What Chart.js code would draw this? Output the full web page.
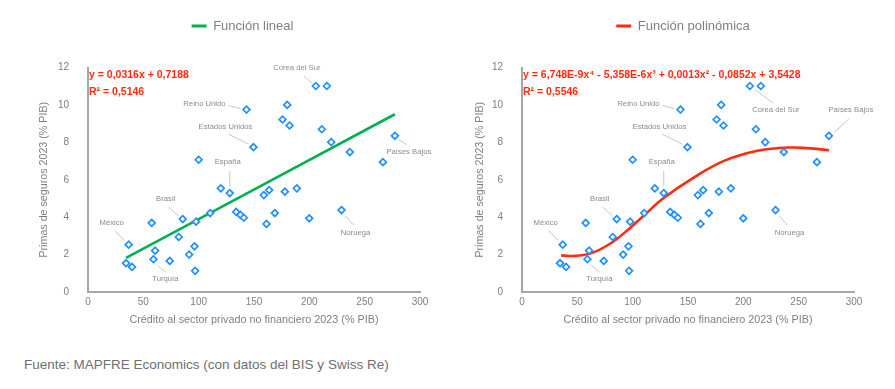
<!DOCTYPE html>
<html lang="es">
<head>
<meta charset="utf-8">
<script src="https://cdn.jsdelivr.net/npm/chart.js@4.4.1/dist/chart.umd.min.js"></script>
<style>
    html, body { margin: 0; padding: 0; background: #fff; overflow: hidden; }
    body { width: 895px; height: 389px; position: relative; font-family: 'Liberation Sans', Arial, sans-serif; }
    canvas { position: absolute; }
    #izq { left: 0; top: -15px; }
    #der { left: 471px; top: -15px; }
    .fuente { position: absolute; left: 24px; top: 357px; font-size: 13.5px; color: #6f6f6f; white-space: nowrap; }
</style>
</head>
<body>
<canvas id="izq" width="485" height="355"></canvas>
<canvas id="der" width="424" height="355"></canvas>
<div class="fuente">Fuente: MAPFRE Economics (con datos del BIS y Swiss Re)</div>
<script>
// Datos
const paises = ["México", "", "", "", "", "Turquía", "", "", "Brasil", "", "", "", "", "", "", "", "España", "", "", "",
    "Reino Unido", "Estados Unidos", "", "", "", "", "", "", "", "", "", "", "Corea del Sur", "", "", "", "Noruega", "", "", "Países Bajos"];
const credito = [36.8, 34.4, 39.8, 57.6, 60.7, 59.1, 73.9, 82.0, 85.6, 91.4, 96.2, 96.8, 97.7, 100.0, 110.4, 120.0, 128.1, 133.9, 137.8, 140.8,
    143.2, 149.5, 158.9, 161.3, 163.7, 168.8, 175.8, 177.9, 180.0, 182.1, 188.7, 199.9, 205.9, 211.3, 215.8, 219.8, 229.1, 236.6, 266.5, 277.3];
const primas = [2.53, 1.54, 1.34, 3.69, 2.21, 1.75, 1.66, 2.94, 3.90, 2.00, 2.44, 1.13, 3.76, 7.07, 4.22, 5.54, 5.29, 4.28, 4.12, 3.97,
    9.75, 7.74, 5.18, 3.64, 5.45, 4.22, 9.22, 5.36, 10.00, 8.90, 5.54, 3.94, 11.01, 8.70, 11.01, 8.01, 4.38, 7.48, 6.94, 8.35];

// Líneas de tendencia
const linealX = [34.4, 277.3];
const linealY = [1.82, 9.50];
const polinomicaX = [35.4, 48.4, 63.5, 81.6, 96.6, 111.7, 126.8, 156.9, 182.5, 212.7, 239.8, 257.9, 277.4];
const polinomicaY = [1.96, 1.93, 2.09, 2.66, 3.37, 4.17, 4.97, 6.18, 7.01, 7.55, 7.72, 7.69, 7.58];

const ticksX = [0, 50, 100, 150, 200, 250, 300];
const ticksY = [0, 2, 4, 6, 8, 10, 12];

const FONT = "'Liberation Sans', Arial, sans-serif";
const GRIS = '#7f7f7f';
const AZUL = '#1e90ff';

// Posición de las etiquetas: [dx texto, dy texto, x1, y1, x2, y2] relativo al punto (px)
const etiquetasIzq = {
    "México": [-17, -22, -4, -4, -14, -14],
    "Brasil": [-17, -20, -4, -3, -14, -12],
    "Turquía": [12, 20, 4, 6, 12, 13],
    "España": [-2, -31, 0, -7, 0, -22],
    "Reino Unido": [-42, -6, -6, -1, -18, -4],
    "Estados Unidos": [-28, -20, -5, -3, -25, -13],
    "Corea del Sur": [-19, -18, -3, -2, -12, -10],
    "Países Bajos": [14, 16, 4, 4, 12, 9],
    "Noruega": [14, 23, 4, 6, 12, 15],
};
const etiquetasDer = Object.assign({}, etiquetasIzq, {
    "Corea del Sur": [26, 24, 6, 4, 23, 17],
    "Países Bajos": [22, -26, 5, -3, 20, -17],
});

function puntos(xs, ys) {
    return xs.map((x, i) => ({ x: x, y: ys[i] }));
}

// Plugin: ecuación y etiquetas de países
const anotaciones = {
    id: 'anotaciones',
    afterDatasetsDraw(chart, args, opts) {
        const ctx = chart.ctx;
        const sx = chart.scales.x;
        const sy = chart.scales.y;
        const area = chart.chartArea;
        ctx.save();
        // etiquetas
        ctx.font = '7.7px ' + FONT;
        ctx.textAlign = 'center';
        ctx.textBaseline = 'middle';
        ctx.strokeStyle = '#b8b8b8';
        ctx.lineWidth = 0.8;
        paises.forEach((nombre, i) => {
            const e = opts.etiquetas[nombre];
            if (!nombre || !e) return;
            const px = sx.getPixelForValue(credito[i]);
            const py = sy.getPixelForValue(primas[i]);
            ctx.beginPath();
            ctx.moveTo(px + e[2], py + e[3]);
            ctx.lineTo(px + e[4], py + e[5]);
            ctx.stroke();
            ctx.fillStyle = '#8a8a8a';
            ctx.fillText(nombre, px + e[0], py + e[1]);
        });
        // ecuación
        ctx.font = 'bold 10.5px ' + FONT;
        ctx.fillStyle = opts.color;
        ctx.textAlign = 'left';
        ctx.fillText(opts.ecuacion[0], area.left + 1, area.top + 8);
        ctx.fillText(opts.ecuacion[1], area.left + 1, area.top + 25);
        ctx.restore();
    }
};

function crearGrafico(id, cfg) {
    const ctx = document.getElementById(id).getContext('2d');
    return new Chart(ctx, {
        type: 'scatter',
        data: {
            datasets: [
                {
                    type: 'line',
                    label: cfg.etiqueta,
                    data: puntos(cfg.tx, cfg.ty),
                    borderColor: cfg.color,
                    backgroundColor: cfg.color,
                    borderWidth: 2.6,
                    pointRadius: 0,
                    tension: 0.4,
                    order: 2,
                },
                {
                    label: 'Países',
                    data: puntos(credito, primas),
                    pointStyle: 'rectRot',
                    pointRadius: 3.4,
                    pointBorderWidth: 1.7,
                    borderColor: AZUL,
                    backgroundColor: '#ffffff',
                    order: 1,
                },
            ],
        },
        options: {
            responsive: false,
            animation: false,
            layout: { padding: 0 },
            scales: {
                x: {
                    type: 'linear',
                    min: 0,
                    max: 300,
                    afterBuildTicks: (s) => { s.ticks = ticksX.map(v => ({ value: v })); },
                    afterFit: (s) => { s.height = 48; },
                    grid: { display: false, drawTicks: false },
                    border: { display: true, color: '#a6a6a6', width: 2 },
                    ticks: { color: GRIS, font: { family: FONT, size: 10 }, padding: 4, maxRotation: 0 },
                    title: {
                        display: true,
                        text: 'Crédito al sector privado no financiero 2023 (% PIB)',
                        color: GRIS,
                        font: { family: FONT, size: 10.8 },
                        padding: { top: 0, bottom: 13 },
                    },
                },
                y: {
                    type: 'linear',
                    position: 'left',
                    min: 0,
                    max: 12,
                    afterBuildTicks: (s) => { s.ticks = ticksY.map(v => ({ value: v })); },
                    afterFit: (s) => { s.width = cfg.anchoY; },
                    grid: { display: false, drawTicks: false },
                    border: { display: true, color: '#a6a6a6', width: 2 },
                    ticks: { color: GRIS, font: { family: FONT, size: 10 }, padding: 19 },
                    title: {
                        display: true,
                        text: 'Primas de seguros 2023 (% PIB)',
                        color: GRIS,
                        font: { family: FONT, size: 10.7 },
                        padding: { top: cfg.padTitulo, bottom: 0 },
                    },
                },
                // margen derecho vacío para centrar la leyenda
                margen: {
                    type: 'linear',
                    position: 'right',
                    display: true,
                    afterFit: (s) => { s.width = cfg.margenDer; },
                    grid: { display: false, drawTicks: false },
                    border: { display: false },
                    ticks: { display: false },
                },
            },
            plugins: {
                legend: {
                    display: true,
                    position: 'top',
                    weight: 1000,
                    labels: {
                        padding: 34.5,
                        boxWidth: 15,
                        boxHeight: 3,
                        color: GRIS,
                        font: { family: FONT, size: 13 },
                        generateLabels: (chart) => [{
                            text: cfg.etiqueta,
                            fillStyle: cfg.color,
                            strokeStyle: cfg.color,
                            lineWidth: 0,
                            fontColor: GRIS,
                            datasetIndex: 0,
                        }],
                    },
                },
                subtitle: {
                    display: true,
                    text: '',
                    position: 'top',
                    weight: 500,
                    font: { size: 10 },
                    padding: { top: 13, bottom: 0 },
                },
                tooltip: { enabled: false },
                anotaciones: {
                    etiquetas: cfg.etiquetas,
                    ecuacion: cfg.ecuacion,
                    color: '#ff2b10',
                },
            },
        },
        plugins: [anotaciones],
    });
}

crearGrafico('izq', {
    etiqueta: 'Función lineal',
    color: '#00b050',
    tx: linealX,
    ty: linealY,
    anchoY: 88,
    margenDer: 65,
    padTitulo: 37.6,
    etiquetas: etiquetasIzq,
    ecuacion: ['y = 0,0316x + 0,7188', 'R² = 0,5146'],
});

crearGrafico('der', {
    etiqueta: 'Función polinómica',
    color: '#ff2b10',
    tx: polinomicaX,
    ty: polinomicaY,
    anchoY: 51,
    margenDer: 41,
    padTitulo: 2.6,
    etiquetas: etiquetasDer,
    ecuacion: ['y = 6,748E-9x⁴ - 5,358E-6x³ + 0,0013x² - 0,0852x + 3,5428', 'R² = 0,5546'],
});
</script>
</body>
</html>
